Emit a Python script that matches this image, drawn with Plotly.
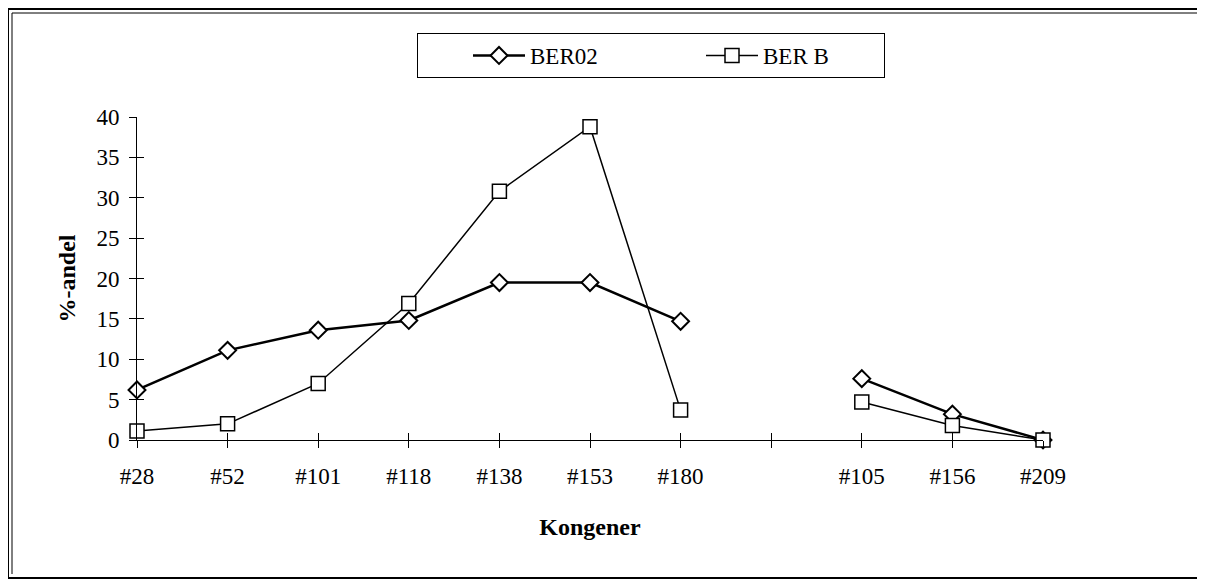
import plotly.graph_objects as go

# ---- data ----
categories = ["#28", "#52", "#101", "#118", "#138", "#153", "#180", "", "#105", "#156", "#209"]
ber02 = [6.2, 11.1, 13.6, 14.8, 19.5, 19.5, 14.7, None, 7.6, 3.2, 0.0]
berb = [1.1, 2.0, 7.0, 16.9, 30.8, 38.8, 3.7, None, 4.7, 1.8, 0.0]
y_ticks = [0, 5, 10, 15, 20, 25, 30, 35, 40]

x_idx = list(range(len(categories)))

OFF = 8  # page body margin offset
W, H = 1205 - OFF, 580 - OFF
L, R, T, B = 137 - OFF, 1043 - OFF, 117 - OFF, 440 - OFF


def px(xp):
    return (xp - OFF - L) / (R - L)


def py(yp):
    return (B - (yp - OFF)) / (B - T)


FONT = "Liberation Serif, Times New Roman, serif"

fig = go.Figure()
fig.add_trace(go.Scatter(
    x=x_idx, y=ber02, name="BER02", mode="lines+markers",
    line=dict(color="black", width=2.5),
    marker=dict(symbol="diamond", size=13, color="white", line=dict(color="black", width=2)),
    cliponaxis=False, connectgaps=False,
))
fig.add_trace(go.Scatter(
    x=x_idx, y=berb, name="BER B", mode="lines+markers",
    line=dict(color="black", width=1.5),
    marker=dict(symbol="square", size=14, color="white", line=dict(color="black", width=1.5)),
    cliponaxis=False, connectgaps=False,
))
# carrier for the overlay axes (draws nothing) so inside tick marks are rendered
fig.add_trace(go.Scatter(
    x=x_idx, y=berb, xaxis="x2", yaxis="y2", mode="none",
    showlegend=False, hoverinfo="skip",
))

axis_common = dict(showgrid=False, zeroline=False, linecolor="black", linewidth=1,
                   tickcolor="black", tickwidth=1, ticklen=7)

fig.update_layout(
    width=W, height=H,
    margin=dict(l=L, r=W - R, t=T, b=H - B, pad=0),
    paper_bgcolor="white", plot_bgcolor="white",
    font=dict(family=FONT, size=23, color="black"),
    xaxis=dict(**axis_common, range=[0, len(categories) - 1], tickmode="array",
               tickvals=x_idx, ticktext=categories, ticks="outside", showline=True,
               ticklabelstandoff=8,
               title=dict(text="<b>Kongener</b>", font=dict(size=24), standoff=30)),
    yaxis=dict(**axis_common, range=[0, 40], tickmode="array", tickvals=y_ticks,
               ticks="outside", showline=True, ticklabelstandoff=5,
               title=dict(text="<b>%-andel</b>", font=dict(size=24), standoff=14)),
    xaxis2=dict(**axis_common, range=[0, len(categories) - 1], tickmode="array",
                tickvals=x_idx, ticks="inside", showticklabels=False, showline=False,
                overlaying="x", anchor="y2", side="bottom"),
    yaxis2=dict(**axis_common, range=[0, 40], tickmode="array", tickvals=y_ticks,
                ticks="inside", showticklabels=False, showline=False,
                overlaying="y", anchor="x2", side="left"),
    showlegend=True,
    legend=dict(orientation="h", x=px(417), xanchor="left", y=py(33), yanchor="top",
                bordercolor="black", borderwidth=1, bgcolor="white",
                font=dict(size=23), entrywidth=116, entrywidthmode="pixels",
                itemwidth=52, indentation=50, tracegroupgap=0),
)

# outer double frame
fig.add_shape(type="rect", xref="paper", yref="paper",
              x0=px(8), x1=px(1202), y0=py(578), y1=py(9),
              line=dict(color="black", width=2), layer="below")
fig.add_shape(type="line", xref="paper", yref="paper",
              x0=px(12), x1=px(12), y0=py(574), y1=py(13),
              line=dict(color="black", width=1))
fig.add_shape(type="line", xref="paper", yref="paper",
              x0=px(12), x1=px(1198), y0=py(13), y1=py(13),
              line=dict(color="black", width=1))

fig.write_html("out.html")
